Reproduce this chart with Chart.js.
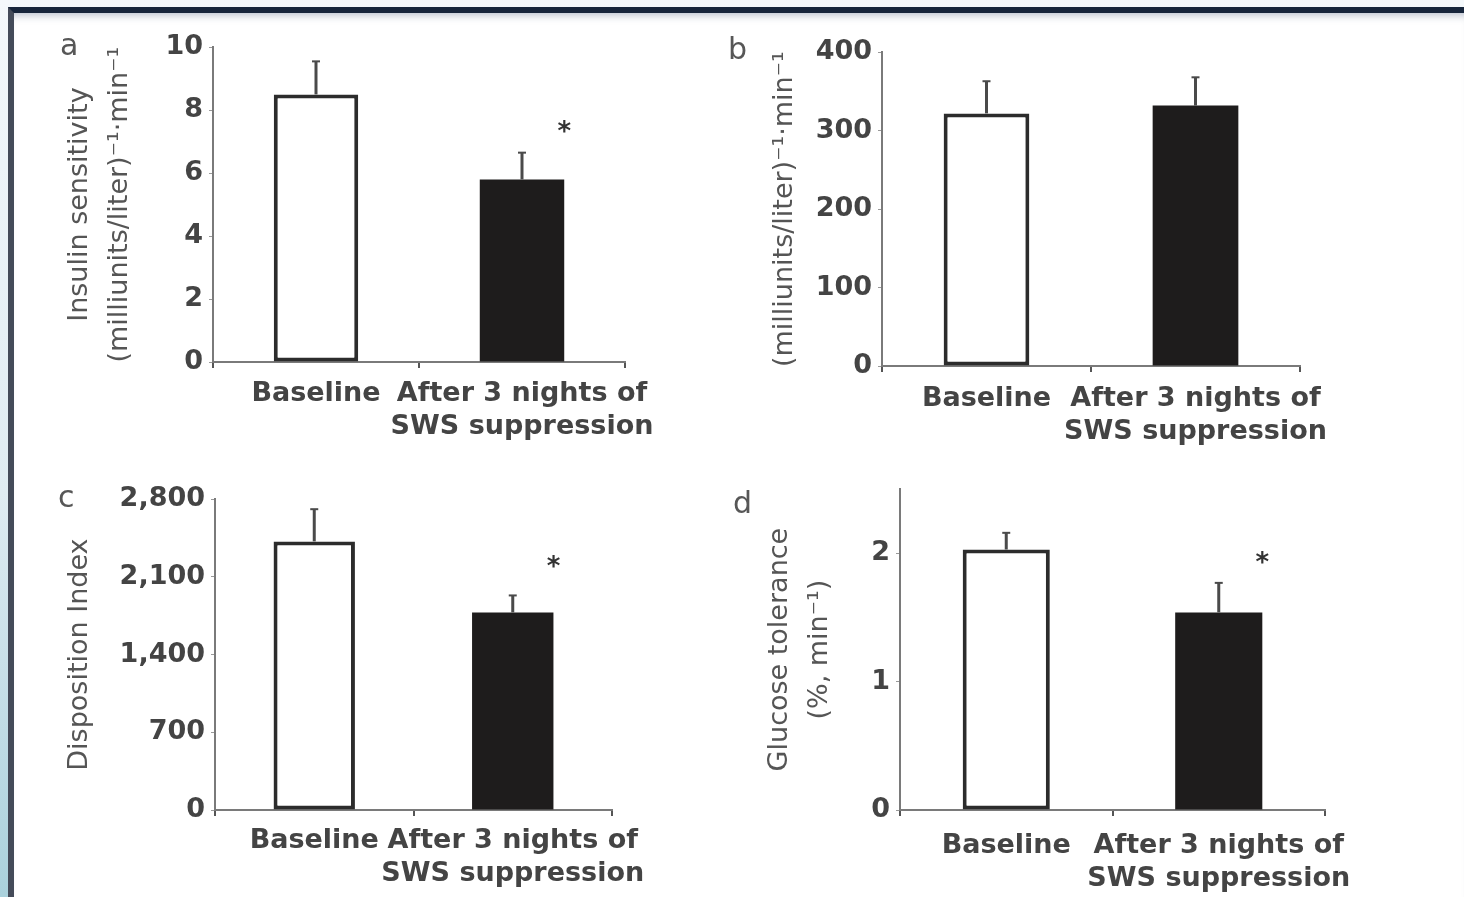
<!DOCTYPE html>
<html>
<head>
<meta charset="utf-8">
<script src="https://cdn.jsdelivr.net/npm/chart.js@4"></script>
<style>
  html, body { margin: 0; padding: 0; }
  body {
    width: 1464px; height: 897px; overflow: hidden; position: relative;
    background: linear-gradient(to bottom, #f4f8fb 0%, #dfecf2 55%, #aad1dc 100%);
  }
  #frame {
    position: absolute; left: 8px; top: 7px; right: 0; bottom: 0;
    background: #fff;
    border-top: 6px solid #17253b;
    border-left: 6px solid #444b59;
    box-shadow: inset 0 9px 8px -7px rgba(40, 60, 100, 0.35);
  }
  canvas { position: absolute; }
  .letter { position: absolute; font-family: "DejaVu Sans"; font-size: 30px; color: #575757; line-height: 1; }
</style>
</head>
<body>
<div id="frame"></div>
<canvas id="chart-a"></canvas>
<canvas id="chart-b"></canvas>
<canvas id="chart-c"></canvas>
<canvas id="chart-d"></canvas>
<div class="letter" style="left:60px; top:30px;">a</div>
<div class="letter" style="left:728px; top:34px;">b</div>
<div class="letter" style="left:58px; top:482px;">c</div>
<div class="letter" style="left:733px; top:488px;">d</div>

<script>
// Data
const categories = ['Baseline', ['After 3 nights of', 'SWS suppression']];

const insulinMean = [8.5, 5.8];
const insulinErr = [1.05, 0.85];
const insulinStar = 7.5;
const insulinTicks = [0, 2, 4, 6, 8, 10];

const airMean = [322, 332];
const airErr = [41, 36];
const airTicks = [0, 100, 200, 300, 400];

const dispMean = [2420, 1780];
const dispErr = [290, 153];
const dispStar = 2240;
const dispTicks = [0, 700, 1400, 2100, 2800];

const glucMean = [2.03, 1.54];
const glucErr = [0.13, 0.23];
const glucStar = 1.97;
const glucTicks = [0, 1, 2];

// Styling
const TEXT = '#444';
const AXIS = '#7a7a7a';
const barFill = ['#ffffff', '#1e1c1c'];
const barEdge = ['#2c2c2c', '#1e1c1c'];
const barEdgeWidth = [4, 0];

// error bars + significance star
const errorBars = {
    id: 'errorBars',
    afterDatasetsDraw(chart, args, opts) {
        const ctx = chart.ctx;
        const y = chart.scales.y;
        const values = chart.data.datasets[0].data;
        const bars = chart.getDatasetMeta(0).data;
        ctx.save();
        ctx.strokeStyle = '#4a4a4a';
        bars.forEach((bar, i) => {
            const top = y.getPixelForValue(values[i] + opts.errors[i]);
            ctx.lineWidth = 3;
            ctx.beginPath();
            ctx.moveTo(bar.x, bar.y);
            ctx.lineTo(bar.x, top);
            ctx.stroke();
            ctx.lineWidth = 2;
            ctx.beginPath();
            ctx.moveTo(bar.x - 4, top);
            ctx.lineTo(bar.x + 4, top);
            ctx.stroke();
        });
        if (opts.star != null) {
            const last = bars[bars.length - 1];
            ctx.fillStyle = '#333';
            ctx.font = 'bold 26px "DejaVu Sans"';
            ctx.textAlign = 'center';
            ctx.textBaseline = 'middle';
            ctx.fillText('*', last.x + last.width / 2, y.getPixelForValue(opts.star) + 7);
        }
        ctx.restore();
    }
};

function makePanel(id, box, area, titleLeft, labelPad, spec) {
    const canvas = document.getElementById(id);
    const [left, top, width, height] = box;
    canvas.style.left = left + 'px';
    canvas.style.top = top + 'px';
    canvas.style.width = width + 'px';
    canvas.style.height = height + 'px';
    canvas.width = width;
    canvas.height = height;

    const padLeft = titleLeft - left;
    const yWidth = area[0] - titleLeft;
    const xHeight = top + height - area[3];

    return new Chart(canvas.getContext('2d'), {
        type: 'bar',
        data: {
            labels: categories,
            datasets: [{
                data: spec.values,
                backgroundColor: barFill,
                borderColor: barEdge,
                borderWidth: barEdgeWidth,
                borderSkipped: false,
                barPercentage: 0.41,
                categoryPercentage: 1
            }]
        },
        options: {
            responsive: false,
            animation: false,
            layout: {
                padding: { left: padLeft, top: area[1] - top, right: left + width - area[2], bottom: 0 }
            },
            plugins: {
                legend: { display: false },
                tooltip: { enabled: false },
                errorBars: { errors: spec.errors, star: spec.star }
            },
            scales: {
                x: {
                    afterFit: (s) => { s.height = xHeight; },
                    grid: { drawOnChartArea: false, tickLength: 6, color: '#555', lineWidth: 2 },
                    border: { color: AXIS, width: 2 },
                    ticks: {
                        color: TEXT, maxRotation: 0, minRotation: 0, autoSkip: false, padding: labelPad,
                        font: { family: 'DejaVu Sans', size: 27, weight: 'bold', lineHeight: 1.22 }
                    }
                },
                y: {
                    min: 0,
                    max: spec.max,
                    afterFit: (s) => { s.width = yWidth; },
                    afterBuildTicks: (s) => { s.ticks = spec.ticks.map(v => ({ value: v })); },
                    grid: { drawOnChartArea: false, tickLength: 4, color: '#999', lineWidth: 1 },
                    border: { color: AXIS, width: 2 },
                    ticks: {
                        color: TEXT, padding: 6,
                        font: { family: 'DejaVu Sans', size: 27, weight: 'bold' }
                    },
                    title: {
                        display: true,
                        text: spec.title,
                        color: '#555',
                        padding: 0,
                        font: { family: 'DejaVu Sans', size: 27, lineHeight: 1.48 }
                    }
                }
            }
        },
        plugins: [errorBars]
    });
}

makePanel('chart-a', [40, 25, 640, 445], [213, 47, 625, 362], 60, 10, {
    values: insulinMean, errors: insulinErr, star: insulinStar,
    ticks: insulinTicks, max: 10,
    title: ['Insulin sensitivity', '(milliunits/liter)\u207B\u00B9\u00B7min\u207B\u00B9']
});

makePanel('chart-b', [700, 30, 660, 445], [882, 52, 1300, 366], 765, 11, {
    values: airMean, errors: airErr, star: null,
    ticks: airTicks, max: 400,
    title: '(milliunits/liter)\u207B\u00B9\u00B7min\u207B\u00B9'
});

makePanel('chart-c', [40, 477, 640, 420], [215, 499, 612, 810], 60, 9, {
    values: dispMean, errors: dispErr, star: dispStar,
    ticks: dispTicks, max: 2800,
    title: 'Disposition Index'
});

makePanel('chart-d', [700, 467, 680, 430], [900, 489, 1325, 810], 760, 14, {
    values: glucMean, errors: glucErr, star: glucStar,
    ticks: glucTicks, max: 2.5,
    title: ['Glucose tolerance', '(%, min\u207B\u00B9)']
});
</script>
</body>
</html>
